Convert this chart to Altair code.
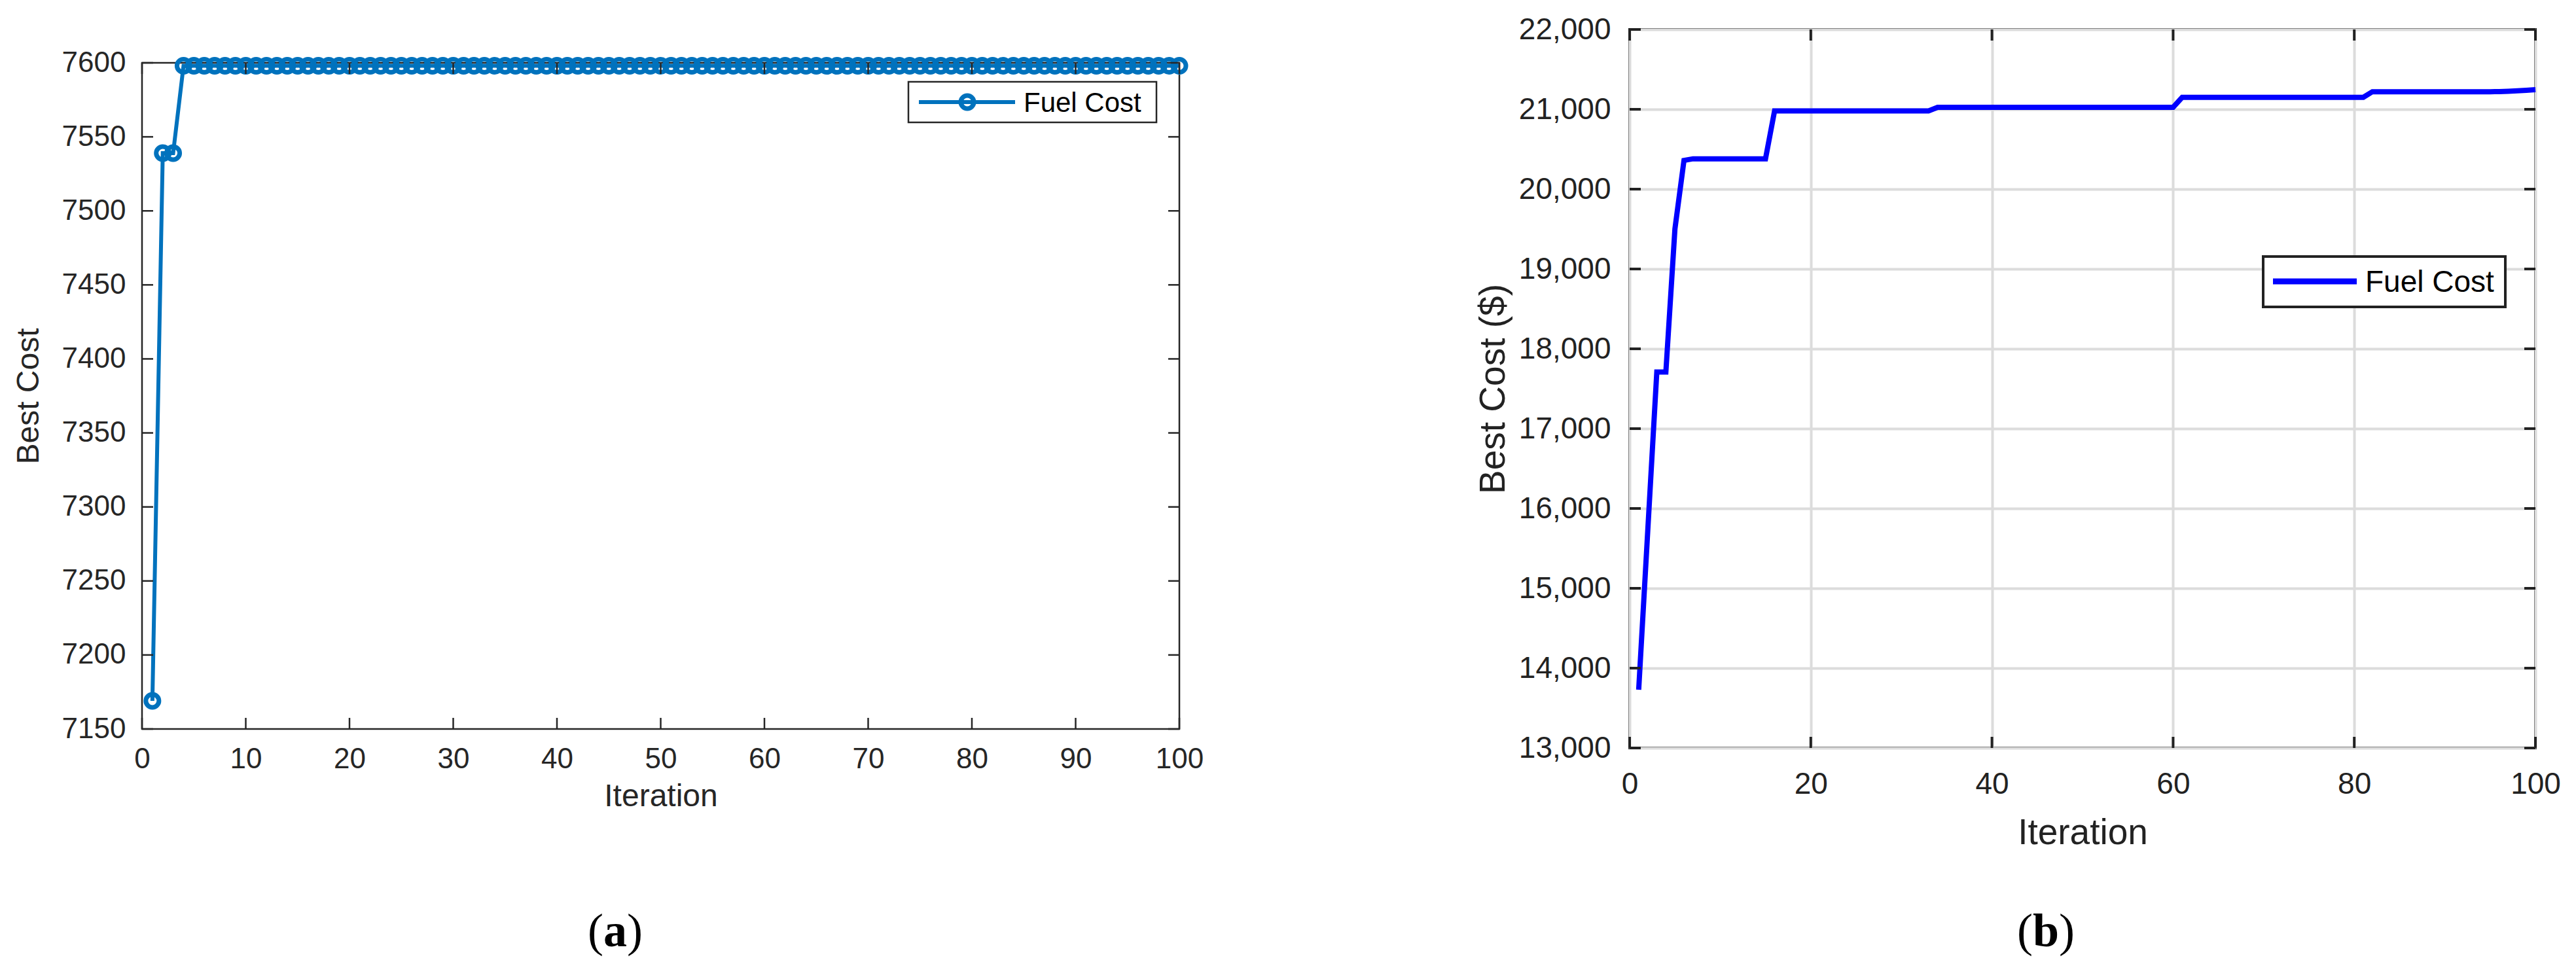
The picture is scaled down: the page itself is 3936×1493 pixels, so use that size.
import altair as alt
import pandas as pd

# ---------------- data ----------------
iterations = list(range(1, 101))

cost_a = [
    7169, 7539, 7539, 7598, 7598, 7598, 7598, 7598, 7598, 7598,
    7598, 7598, 7598, 7598, 7598, 7598, 7598, 7598, 7598, 7598,
    7598, 7598, 7598, 7598, 7598, 7598, 7598, 7598, 7598, 7598,
    7598, 7598, 7598, 7598, 7598, 7598, 7598, 7598, 7598, 7598,
    7598, 7598, 7598, 7598, 7598, 7598, 7598, 7598, 7598, 7598,
    7598, 7598, 7598, 7598, 7598, 7598, 7598, 7598, 7598, 7598,
    7598, 7598, 7598, 7598, 7598, 7598, 7598, 7598, 7598, 7598,
    7598, 7598, 7598, 7598, 7598, 7598, 7598, 7598, 7598, 7598,
    7598, 7598, 7598, 7598, 7598, 7598, 7598, 7598, 7598, 7598,
    7598, 7598, 7598, 7598, 7598, 7598, 7598, 7598, 7598, 7598,
]

cost_b = [
    13730, 15720, 17710, 17710, 19500, 20360, 20380, 20380, 20380, 20380,
    20380, 20380, 20380, 20380, 20380, 20980, 20980, 20980, 20980, 20980,
    20980, 20980, 20980, 20980, 20980, 20980, 20980, 20980, 20980, 20980,
    20980, 20980, 20980, 21025, 21025, 21025, 21025, 21025, 21025, 21025,
    21025, 21025, 21025, 21025, 21025, 21025, 21025, 21025, 21025, 21025,
    21025, 21025, 21025, 21025, 21025, 21025, 21025, 21025, 21025, 21025,
    21150, 21150, 21150, 21150, 21150, 21150, 21150, 21150, 21150, 21150,
    21150, 21150, 21150, 21150, 21150, 21150, 21150, 21150, 21150, 21150,
    21150, 21220, 21220, 21220, 21220, 21220, 21220, 21220, 21220, 21220,
    21220, 21220, 21220, 21220, 21220, 21222, 21226, 21231, 21238, 21246,
]

xticks_a = [0, 10, 20, 30, 40, 50, 60, 70, 80, 90, 100]
yticks_a = [7150, 7200, 7250, 7300, 7350, 7400, 7450, 7500, 7550, 7600]
xticks_b = [0, 20, 40, 60, 80, 100]
yticks_b = [13000, 14000, 15000, 16000, 17000, 18000, 19000, 20000, 21000, 22000]

legend_label = ["Fuel Cost"]
x_title = "Iteration"
y_title_a = "Best Cost"
y_title_b = "Best Cost ($)"
caption_a = ["(", "a", ")"]
caption_b = ["(", "b", ")"]

# ---------------- styles ----------------
BLUE_A = "#0072BD"
BLUE_B = "#0000FF"
AX_A = "#262626"
AX_B = "#222222"

Wa, Ha = 1585, 1018
Wb, Hb = 1384, 1098
TL = 17

# ================= Panel (a) =================
da = pd.DataFrame({"Iteration": iterations, "Cost": cost_a})
sx_a = alt.Scale(domain=[0, 100], nice=False, zero=False)
sy_a = alt.Scale(domain=[7150, 7600], nice=False, zero=False)
ax_xa = alt.Axis(values=xticks_a, title=x_title, format="d", ticks=False, domain=False, grid=False,
                 labelFontSize=44, labelColor=AX_A, labelPadding=24, labelFlush=False,
                 labelOverlap=False,
                 titleFontSize=48, titleFontWeight="normal", titleColor=AX_A, titlePadding=11)
ax_ya = alt.Axis(values=yticks_a, title=y_title_a, format="d", ticks=False, domain=False, grid=False,
                 labelFontSize=44, labelColor=AX_A, labelPadding=25, labelFlush=False,
                 labelOverlap=False,
                 titleFontSize=48, titleFontWeight="normal", titleColor=AX_A, titlePadding=26)

line_a = alt.Chart(da).mark_line(color=BLUE_A, strokeWidth=6).encode(
    x=alt.X("Iteration:Q", scale=sx_a, axis=ax_xa),
    y=alt.Y("Cost:Q", scale=sy_a, axis=ax_ya),
)
pts_a = alt.Chart(da).mark_point(shape="circle", filled=False, size=400, strokeWidth=7,
                                 color=BLUE_A, opacity=1).encode(
    x=alt.X("Iteration:Q", scale=sx_a, axis=ax_xa),
    y=alt.Y("Cost:Q", scale=sy_a, axis=ax_ya),
)

txa = pd.DataFrame({"Iteration": xticks_a})
tya = pd.DataFrame({"Cost": yticks_a})
tick_style_a = dict(color=AX_A, strokeWidth=2.5)
tb_a = alt.Chart(txa).mark_rule(**tick_style_a).encode(
    x=alt.X("Iteration:Q", scale=sx_a, axis=ax_xa), y=alt.value(Ha), y2=alt.value(Ha - TL))
tt_a = alt.Chart(txa).mark_rule(**tick_style_a).encode(
    x=alt.X("Iteration:Q", scale=sx_a, axis=ax_xa), y=alt.value(0), y2=alt.value(TL))
tl_a = alt.Chart(tya).mark_rule(**tick_style_a).encode(
    y=alt.Y("Cost:Q", scale=sy_a, axis=ax_ya), x=alt.value(0), x2=alt.value(TL))
tr_a = alt.Chart(tya).mark_rule(**tick_style_a).encode(
    y=alt.Y("Cost:Q", scale=sy_a, axis=ax_ya), x=alt.value(Wa), x2=alt.value(Wa - TL))

leg_a_df = pd.DataFrame({"label": legend_label})
leg_a_box = alt.Chart(leg_a_df).mark_rect(fill="white", stroke=AX_A, strokeWidth=2.5).encode(
    x=alt.value(1171), x2=alt.value(1550), y=alt.value(29), y2=alt.value(91))
leg_a_line = alt.Chart(leg_a_df).mark_rule(color=BLUE_A, strokeWidth=6).encode(
    x=alt.value(1187), x2=alt.value(1334), y=alt.value(60))
leg_a_pt = alt.Chart(leg_a_df).mark_point(shape="circle", filled=False, size=400, strokeWidth=7,
                                          color=BLUE_A, opacity=1).encode(
    x=alt.value(1261), y=alt.value(60))
leg_a_txt = alt.Chart(leg_a_df).mark_text(align="left", baseline="middle", fontSize=42,
                                          color="black").encode(
    x=alt.value(1347), y=alt.value(62), text="label:N")

cap_a_df = pd.DataFrame({"p1": [caption_a[0]], "l": [caption_a[1]], "p2": [caption_a[2]]})
cap_font = "Liberation Serif"
cap_a1 = alt.Chart(cap_a_df).mark_text(align="left", baseline="alphabetic", fontSize=72,
                                       font=cap_font, color="black").encode(
    x=alt.value(681), y=alt.value(1350), text="p1:N")
cap_a2 = alt.Chart(cap_a_df).mark_text(align="left", baseline="alphabetic", fontSize=72,
                                       font=cap_font, fontWeight="bold", color="black").encode(
    x=alt.value(705), y=alt.value(1350), text="l:N")
cap_a3 = alt.Chart(cap_a_df).mark_text(align="left", baseline="alphabetic", fontSize=72,
                                       font=cap_font, color="black").encode(
    x=alt.value(741), y=alt.value(1350), text="p2:N")

panel_a = alt.layer(
    line_a, pts_a, tb_a, tt_a, tl_a, tr_a,
    leg_a_box, leg_a_line, leg_a_pt, leg_a_txt,
    cap_a1, cap_a2, cap_a3,
).properties(width=Wa, height=Ha,
             view=alt.ViewBackground(stroke=AX_A, strokeWidth=2.5, strokeOpacity=1))

spacer = alt.Chart(pd.DataFrame({"v": [0]})).mark_point(opacity=0).encode(
    x=alt.value(0), y=alt.value(0)
).properties(width=Wa, height=51, view=alt.ViewBackground(strokeOpacity=0, strokeWidth=0))

# ================= Panel (b) =================
db = pd.DataFrame({"Iteration": iterations, "Cost": cost_b})
sx_b = alt.Scale(domain=[0, 100], nice=False, zero=False)
sy_b = alt.Scale(domain=[13000, 22000], nice=False, zero=False)
ax_xb = alt.Axis(values=xticks_b, title=x_title, format="d", ticks=False, domain=False, grid=True,
                 gridColor="#dcdcdc", gridWidth=4,
                 labelFontSize=46, labelColor=AX_B, labelPadding=33, labelFlush=False,
                 labelOverlap=False,
                 titleFontSize=55, titleFontWeight="normal", titleColor=AX_B, titlePadding=25)
ax_yb = alt.Axis(values=yticks_b, title=y_title_b, format=",.0f", ticks=False, domain=False,
                 grid=True, gridColor="#dcdcdc", gridWidth=4,
                 labelFontSize=46, labelColor=AX_B, labelPadding=29, labelFlush=False,
                 labelOverlap=False,
                 titleFontSize=55, titleFontWeight="normal", titleColor=AX_B, titlePadding=10)

line_b = alt.Chart(db).mark_line(color=BLUE_B, strokeWidth=8).encode(
    x=alt.X("Iteration:Q", scale=sx_b, axis=ax_xb),
    y=alt.Y("Cost:Q", scale=sy_b, axis=ax_yb),
)

txb = pd.DataFrame({"Iteration": xticks_b})
tyb = pd.DataFrame({"Cost": yticks_b})
tick_style_b = dict(color=AX_B, strokeWidth=4)
tb_b = alt.Chart(txb).mark_rule(**tick_style_b).encode(
    x=alt.X("Iteration:Q", scale=sx_b, axis=ax_xb), y=alt.value(Hb), y2=alt.value(Hb - TL))
tt_b = alt.Chart(txb).mark_rule(**tick_style_b).encode(
    x=alt.X("Iteration:Q", scale=sx_b, axis=ax_xb), y=alt.value(0), y2=alt.value(TL))
tl_b = alt.Chart(tyb).mark_rule(**tick_style_b).encode(
    y=alt.Y("Cost:Q", scale=sy_b, axis=ax_yb), x=alt.value(0), x2=alt.value(TL))
tr_b = alt.Chart(tyb).mark_rule(**tick_style_b).encode(
    y=alt.Y("Cost:Q", scale=sy_b, axis=ax_yb), x=alt.value(Wb), x2=alt.value(Wb - TL))

leg_b_df = pd.DataFrame({"label": legend_label})
leg_b_box = alt.Chart(leg_b_df).mark_rect(fill="white", stroke=AX_B, strokeWidth=4).encode(
    x=alt.value(968), x2=alt.value(1338), y=alt.value(347), y2=alt.value(424))
leg_b_line = alt.Chart(leg_b_df).mark_rule(color=BLUE_B, strokeWidth=9).encode(
    x=alt.value(983), x2=alt.value(1111), y=alt.value(385))
leg_b_txt = alt.Chart(leg_b_df).mark_text(align="left", baseline="middle", fontSize=46,
                                          color="black").encode(
    x=alt.value(1124), y=alt.value(387), text="label:N")

cap_b_df = pd.DataFrame({"p1": [caption_b[0]], "l": [caption_b[1]], "p2": [caption_b[2]]})
cap_b1 = alt.Chart(cap_b_df).mark_text(align="left", baseline="alphabetic", fontSize=72,
                                       font=cap_font, color="black").encode(
    x=alt.value(592), y=alt.value(1401), text="p1:N")
cap_b2 = alt.Chart(cap_b_df).mark_text(align="left", baseline="alphabetic", fontSize=72,
                                       font=cap_font, fontWeight="bold", color="black").encode(
    x=alt.value(616), y=alt.value(1401), text="l:N")
cap_b3 = alt.Chart(cap_b_df).mark_text(align="left", baseline="alphabetic", fontSize=72,
                                       font=cap_font, color="black").encode(
    x=alt.value(656), y=alt.value(1401), text="p2:N")

panel_b = alt.layer(
    line_b, tb_b, tt_b, tl_b, tr_b,
    leg_b_box, leg_b_line, leg_b_txt,
    cap_b1, cap_b2, cap_b3,
).properties(width=Wb, height=Hb,
             view=alt.ViewBackground(stroke=AX_B, strokeWidth=4, strokeOpacity=1))

left = alt.vconcat(spacer, panel_a, spacing=0, bounds="flush")
chart = alt.hconcat(left, panel_b, spacing=412).properties(
    padding={"left": 10, "top": 12, "right": 5, "bottom": 5}
).configure(font="Liberation Sans").configure_view(strokeWidth=0)

chart.save("out.html", embed_options={"renderer": "svg", "actions": False})
